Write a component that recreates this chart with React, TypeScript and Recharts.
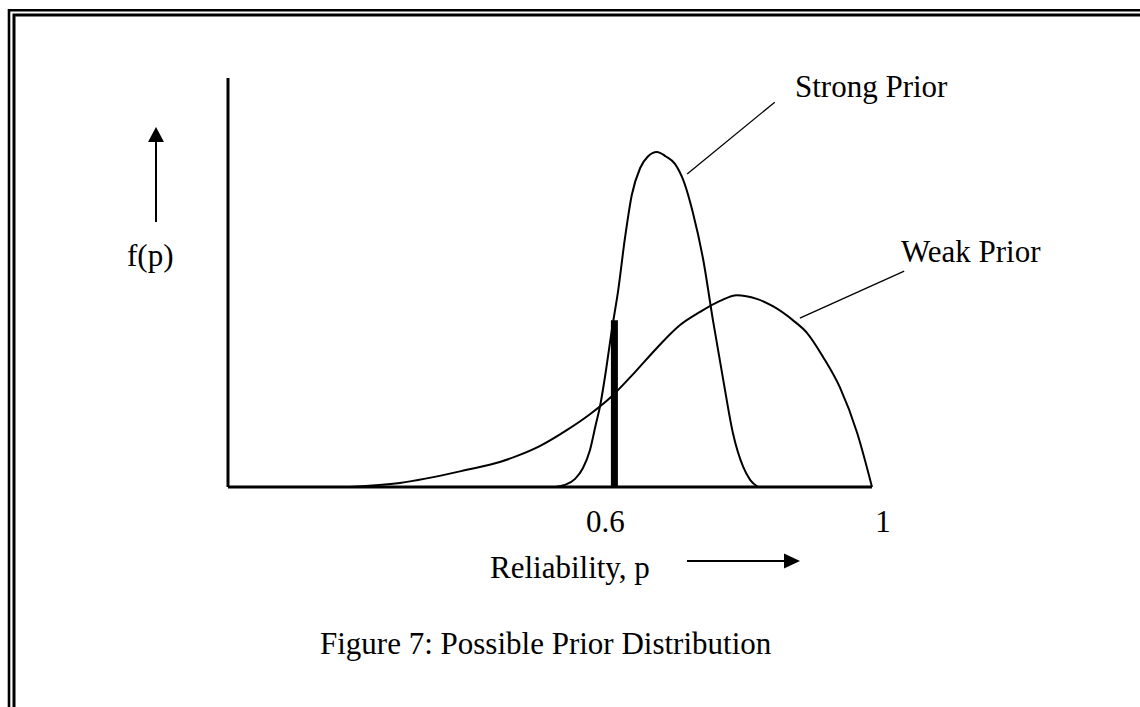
import React from "react";
import { ComposedChart, Line, XAxis, YAxis, ReferenceLine } from "recharts";

// Reliability p (x) and density f(p) (y)
const strongPriorP = [0.508, 0.523, 0.539, 0.551, 0.562, 0.571, 0.578, 0.587, 0.596, 0.606, 0.616, 0.627, 0.64, 0.652, 0.666, 0.68, 0.694, 0.708, 0.722, 0.738, 0.753, 0.769, 0.784, 0.8, 0.811, 0.823];
const strongPriorDensity = [0, 0.05, 0.2, 0.46, 0.9, 1.52, 2.0, 2.86, 3.84, 4.82, 6.04, 7.14, 7.8, 8.08, 8.19, 8.08, 7.9, 7.46, 6.7, 5.55, 4.08, 2.62, 1.32, 0.49, 0.17, 0];

const weakPriorP = [0.189, 0.267, 0.371, 0.422, 0.449, 0.484, 0.526, 0.562, 0.596, 0.632, 0.666, 0.702, 0.733, 0.764, 0.79, 0.821, 0.846, 0.877, 0.899, 0.924, 0.95, 0.977, 1.0];
const weakPriorDensity = [0, 0.1, 0.42, 0.61, 0.76, 1.0, 1.39, 1.78, 2.22, 2.81, 3.4, 3.96, 4.28, 4.55, 4.69, 4.6, 4.42, 4.08, 3.77, 3.18, 2.44, 1.32, 0];

// observed reliability marker
const observedP = [0.6, 0.6];
const observedHeight = [0, 4.08];

const xTicks = [0.6, 1];
const xTickLabels = ["0.6", "1"];

// leader lines [p1, f1, p2, f2]
const strongLeader = [0.713, 7.65, 0.849, 9.41];
const weakLeader = [0.888, 4.13, 1.05, 5.28];

const strongData = strongPriorP.map((p, i) => ({ p, f: strongPriorDensity[i] }));
const weakData = weakPriorP.map((p, i) => ({ p, f: weakPriorDensity[i] }));
const observedData = observedP.map((p, i) => ({ p, f: observedHeight[i] }));

const FONT = "'Liberation Serif', 'Times New Roman', serif";

const TickLabel = (props: any) => {
  const { x, y, payload } = props;
  const idx = xTicks.indexOf(payload.value);
  const dx = payload.value === 1 ? 11 : -9;
  return (
    <text x={x + dx} y={y + 37} textAnchor="middle" fontFamily={FONT} fontSize={31} fill="#000">
      {xTickLabels[idx]}
    </text>
  );
};

export default function App() {
  return (
    <div style={{ position: "fixed", left: 0, top: 0, width: 1140, height: 707, background: "#fff" }}>
      <ComposedChart
        width={1140}
        height={707}
        margin={{ top: 78, left: 227, right: 268, bottom: 160 }}
      >
        <XAxis
          type="number"
          dataKey="p"
          domain={[0, 1]}
          ticks={xTicks}
          interval={0}
          tickLine={false}
          tick={<TickLabel />}
          height={60}
          axisLine={{ stroke: "#000", strokeWidth: 3 }}
        />
        <YAxis
          type="number"
          domain={[0, 10]}
          tick={false}
          tickLine={false}
          width={1}
          axisLine={{ stroke: "#000", strokeWidth: 3 }}
        />
        <Line data={weakData} dataKey="f" type="monotone" stroke="#000" strokeWidth={2} dot={false} isAnimationActive={false} />
        <Line data={strongData} dataKey="f" type="monotone" stroke="#000" strokeWidth={2} dot={false} isAnimationActive={false} />
        <Line data={observedData} dataKey="f" type="linear" stroke="#000" strokeWidth={7} strokeLinecap="butt" dot={false} isAnimationActive={false} />
        <ReferenceLine
          segment={[{ x: strongLeader[0], y: strongLeader[1] }, { x: strongLeader[2], y: strongLeader[3] }]}
          stroke="#000"
          strokeWidth={1.3}
          ifOverflow="visible"
        />
        <ReferenceLine
          segment={[{ x: weakLeader[0], y: weakLeader[1] }, { x: weakLeader[2], y: weakLeader[3] }]}
          stroke="#000"
          strokeWidth={1.3}
          ifOverflow="visible"
        />
      </ComposedChart>
      <svg
        width={1140}
        height={707}
        style={{ position: "absolute", left: 0, top: 0, pointerEvents: "none" }}
      >
        {/* double frame */}
        <path d="M 9 707 L 9 10.3 L 1140 10.3" fill="none" stroke="#000" strokeWidth={2.6} />
        <path d="M 14 707 L 14 15 L 1140 15" fill="none" stroke="#000" strokeWidth={3} />
        {/* y label + arrow */}
        <line x1={156} y1={222} x2={156} y2={140} stroke="#000" strokeWidth={2} />
        <polygon points="156,127 148,142 164,142" fill="#000" />
        <text x={127} y={266} fontFamily={FONT} fontSize={31} fill="#000">f(p)</text>
        {/* x label + arrow */}
        <text x={490} y={578} fontFamily={FONT} fontSize={31} fill="#000">Reliability, p</text>
        <line x1={687} y1={561} x2={786} y2={561} stroke="#000" strokeWidth={2} />
        <polygon points="800,561 784,553.5 784,568.5" fill="#000" />
        {/* series labels */}
        <text x={795} y={97} fontFamily={FONT} fontSize={31} fill="#000">Strong Prior</text>
        <text x={901} y={262} fontFamily={FONT} fontSize={31} fill="#000">Weak Prior</text>
        {/* caption */}
        <text x={320} y={654} fontFamily={FONT} fontSize={31} fill="#000">Figure 7: Possible Prior Distribution</text>
      </svg>
    </div>
  );
}
